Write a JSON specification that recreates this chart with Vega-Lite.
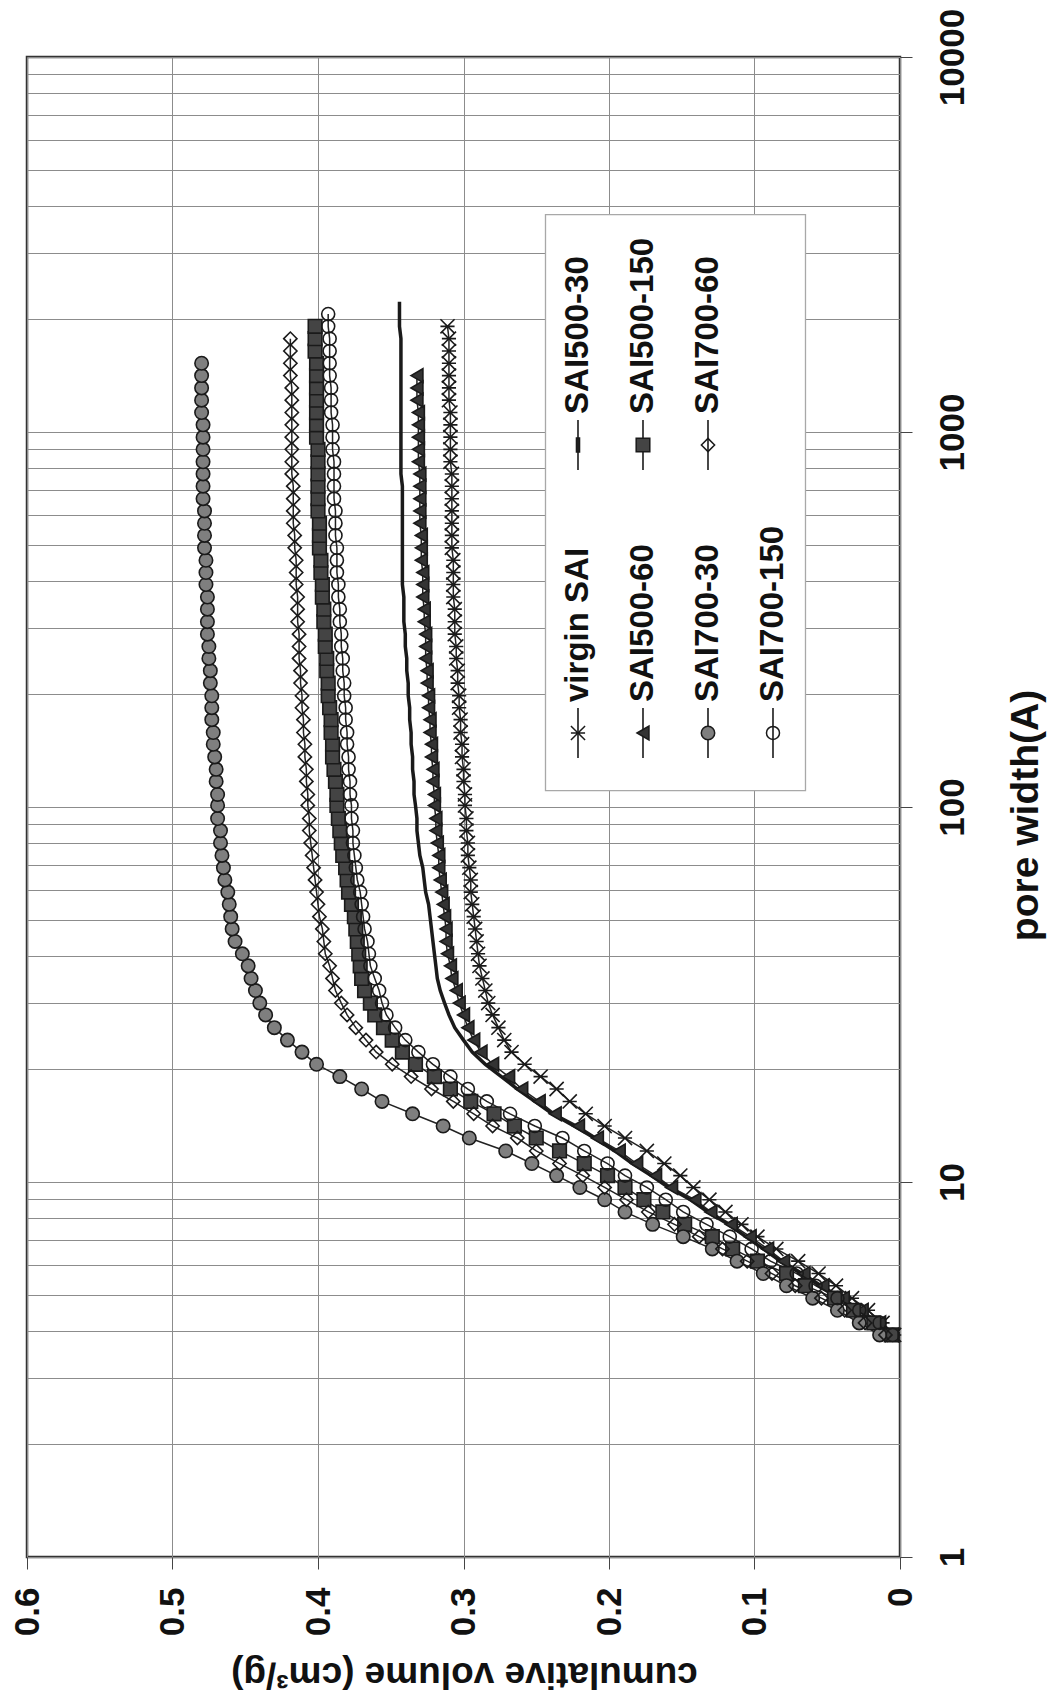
{
"$schema":"https://vega.github.io/schema/vega-lite/v6.json",
"width":873,"height":1500,
"autosize":{"type":"none"},
"padding":{"left":27,"top":57,"right":147,"bottom":147},
"background":"white",
"config":{"font":"Liberation Sans","view":{"stroke":"#333","strokeWidth":2.5}},
"resolve":{"scale":{"x":"independent","y":"independent"}},
"layer":[
{
"data":{"values":[
{"series":"virgin SAI","w":3.91,"v":0.004},{"series":"virgin SAI","w":4.21,"v":0.012},{"series":"virgin SAI","w":4.55,"v":0.022},{"series":"virgin SAI","w":4.9,"v":0.033},{"series":"virgin SAI","w":5.29,"v":0.044},{"series":"virgin SAI","w":5.7,"v":0.056},{"series":"virgin SAI","w":6.15,"v":0.07},{"series":"virgin SAI","w":6.63,"v":0.085},{"series":"virgin SAI","w":7.15,"v":0.098},{"series":"virgin SAI","w":7.71,"v":0.109},{"series":"virgin SAI","w":8.32,"v":0.12},{"series":"virgin SAI","w":8.97,"v":0.131},{"series":"virgin SAI","w":9.67,"v":0.142},{"series":"virgin SAI","w":10.4,"v":0.151},{"series":"virgin SAI","w":11.2,"v":0.162},{"series":"virgin SAI","w":12.1,"v":0.174},{"series":"virgin SAI","w":13.1,"v":0.189},{"series":"virgin SAI","w":14.1,"v":0.203},{"series":"virgin SAI","w":15.2,"v":0.216},{"series":"virgin SAI","w":16.4,"v":0.227},{"series":"virgin SAI","w":17.7,"v":0.236},{"series":"virgin SAI","w":19.1,"v":0.247},{"series":"virgin SAI","w":20.6,"v":0.258},{"series":"virgin SAI","w":22.2,"v":0.267},{"series":"virgin SAI","w":23.9,"v":0.272},{"series":"virgin SAI","w":25.8,"v":0.276},{"series":"virgin SAI","w":27.9,"v":0.28},{"series":"virgin SAI","w":30,"v":0.283},{"series":"virgin SAI","w":32.4,"v":0.285},{"series":"virgin SAI","w":34.9,"v":0.287},{"series":"virgin SAI","w":37.7,"v":0.289},{"series":"virgin SAI","w":40.6,"v":0.29},{"series":"virgin SAI","w":43.8,"v":0.291},{"series":"virgin SAI","w":47.3,"v":0.292},{"series":"virgin SAI","w":51,"v":0.293},{"series":"virgin SAI","w":55,"v":0.294},{"series":"virgin SAI","w":59.3,"v":0.295},{"series":"virgin SAI","w":63.9,"v":0.295},{"series":"virgin SAI","w":68.9,"v":0.296},{"series":"virgin SAI","w":74.3,"v":0.297},{"series":"virgin SAI","w":80.2,"v":0.297},{"series":"virgin SAI","w":86.5,"v":0.298},{"series":"virgin SAI","w":93.2,"v":0.298},{"series":"virgin SAI","w":101,"v":0.299},{"series":"virgin SAI","w":108,"v":0.299},{"series":"virgin SAI","w":117,"v":0.3},{"series":"virgin SAI","w":126,"v":0.3},{"series":"virgin SAI","w":136,"v":0.301},{"series":"virgin SAI","w":147,"v":0.301},{"series":"virgin SAI","w":158,"v":0.302},{"series":"virgin SAI","w":171,"v":0.302},{"series":"virgin SAI","w":184,"v":0.303},{"series":"virgin SAI","w":198,"v":0.303},{"series":"virgin SAI","w":214,"v":0.304},{"series":"virgin SAI","w":231,"v":0.304},{"series":"virgin SAI","w":249,"v":0.305},{"series":"virgin SAI","w":268,"v":0.305},{"series":"virgin SAI","w":289,"v":0.306},{"series":"virgin SAI","w":312,"v":0.306},{"series":"virgin SAI","w":337,"v":0.306},{"series":"virgin SAI","w":363,"v":0.307},{"series":"virgin SAI","w":392,"v":0.307},{"series":"virgin SAI","w":422,"v":0.307},{"series":"virgin SAI","w":455,"v":0.307},{"series":"virgin SAI","w":491,"v":0.308},{"series":"virgin SAI","w":530,"v":0.308},{"series":"virgin SAI","w":571,"v":0.308},{"series":"virgin SAI","w":616,"v":0.308},{"series":"virgin SAI","w":664,"v":0.308},{"series":"virgin SAI","w":717,"v":0.308},{"series":"virgin SAI","w":773,"v":0.308},{"series":"virgin SAI","w":833,"v":0.309},{"series":"virgin SAI","w":899,"v":0.309},{"series":"virgin SAI","w":969,"v":0.309},{"series":"virgin SAI","w":1045,"v":0.309},{"series":"virgin SAI","w":1127,"v":0.309},{"series":"virgin SAI","w":1216,"v":0.31},{"series":"virgin SAI","w":1311,"v":0.31},{"series":"virgin SAI","w":1414,"v":0.31},{"series":"virgin SAI","w":1525,"v":0.31},{"series":"virgin SAI","w":1644,"v":0.31},{"series":"virgin SAI","w":1774,"v":0.31},{"series":"virgin SAI","w":1913,"v":0.311},
{"series":"SAI500-30","w":3.91,"v":0.006},{"series":"SAI500-30","w":4.21,"v":0.015},{"series":"SAI500-30","w":4.55,"v":0.028},{"series":"SAI500-30","w":4.9,"v":0.041},{"series":"SAI500-30","w":5.29,"v":0.055},{"series":"SAI500-30","w":5.7,"v":0.068},{"series":"SAI500-30","w":6.15,"v":0.082},{"series":"SAI500-30","w":6.63,"v":0.094},{"series":"SAI500-30","w":7.15,"v":0.106},{"series":"SAI500-30","w":7.71,"v":0.118},{"series":"SAI500-30","w":8.32,"v":0.132},{"series":"SAI500-30","w":8.97,"v":0.144},{"series":"SAI500-30","w":9.67,"v":0.159},{"series":"SAI500-30","w":10.4,"v":0.171},{"series":"SAI500-30","w":11.2,"v":0.184},{"series":"SAI500-30","w":12.1,"v":0.196},{"series":"SAI500-30","w":13.1,"v":0.21},{"series":"SAI500-30","w":14.1,"v":0.224},{"series":"SAI500-30","w":15.2,"v":0.239},{"series":"SAI500-30","w":16.4,"v":0.251},{"series":"SAI500-30","w":17.7,"v":0.263},{"series":"SAI500-30","w":19.1,"v":0.274},{"series":"SAI500-30","w":20.6,"v":0.285},{"series":"SAI500-30","w":22.2,"v":0.294},{"series":"SAI500-30","w":23.9,"v":0.3},{"series":"SAI500-30","w":25.8,"v":0.306},{"series":"SAI500-30","w":27.9,"v":0.31},{"series":"SAI500-30","w":30,"v":0.313},{"series":"SAI500-30","w":32.4,"v":0.316},{"series":"SAI500-30","w":34.9,"v":0.318},{"series":"SAI500-30","w":37.7,"v":0.319},{"series":"SAI500-30","w":40.6,"v":0.32},{"series":"SAI500-30","w":43.8,"v":0.321},{"series":"SAI500-30","w":47.3,"v":0.322},{"series":"SAI500-30","w":51,"v":0.323},{"series":"SAI500-30","w":55,"v":0.324},{"series":"SAI500-30","w":59.3,"v":0.326},{"series":"SAI500-30","w":63.9,"v":0.327},{"series":"SAI500-30","w":68.9,"v":0.328},{"series":"SAI500-30","w":74.3,"v":0.33},{"series":"SAI500-30","w":80.2,"v":0.331},{"series":"SAI500-30","w":86.5,"v":0.332},{"series":"SAI500-30","w":93.2,"v":0.332},{"series":"SAI500-30","w":101,"v":0.333},{"series":"SAI500-30","w":108,"v":0.334},{"series":"SAI500-30","w":117,"v":0.334},{"series":"SAI500-30","w":126,"v":0.335},{"series":"SAI500-30","w":136,"v":0.335},{"series":"SAI500-30","w":147,"v":0.336},{"series":"SAI500-30","w":158,"v":0.336},{"series":"SAI500-30","w":171,"v":0.337},{"series":"SAI500-30","w":184,"v":0.337},{"series":"SAI500-30","w":198,"v":0.338},{"series":"SAI500-30","w":214,"v":0.338},{"series":"SAI500-30","w":231,"v":0.339},{"series":"SAI500-30","w":249,"v":0.339},{"series":"SAI500-30","w":268,"v":0.34},{"series":"SAI500-30","w":289,"v":0.34},{"series":"SAI500-30","w":312,"v":0.341},{"series":"SAI500-30","w":337,"v":0.341},{"series":"SAI500-30","w":363,"v":0.341},{"series":"SAI500-30","w":392,"v":0.342},{"series":"SAI500-30","w":422,"v":0.342},{"series":"SAI500-30","w":455,"v":0.342},{"series":"SAI500-30","w":491,"v":0.342},{"series":"SAI500-30","w":530,"v":0.342},{"series":"SAI500-30","w":571,"v":0.342},{"series":"SAI500-30","w":616,"v":0.342},{"series":"SAI500-30","w":664,"v":0.342},{"series":"SAI500-30","w":717,"v":0.342},{"series":"SAI500-30","w":773,"v":0.343},{"series":"SAI500-30","w":833,"v":0.343},{"series":"SAI500-30","w":899,"v":0.343},{"series":"SAI500-30","w":969,"v":0.343},{"series":"SAI500-30","w":1045,"v":0.343},{"series":"SAI500-30","w":1127,"v":0.343},{"series":"SAI500-30","w":1216,"v":0.343},{"series":"SAI500-30","w":1311,"v":0.343},{"series":"SAI500-30","w":1414,"v":0.343},{"series":"SAI500-30","w":1525,"v":0.343},{"series":"SAI500-30","w":1644,"v":0.343},{"series":"SAI500-30","w":1774,"v":0.343},{"series":"SAI500-30","w":1913,"v":0.344},{"series":"SAI500-30","w":2063,"v":0.344},{"series":"SAI500-30","w":2225,"v":0.344},
{"series":"SAI500-60","w":3.91,"v":0.005},{"series":"SAI500-60","w":4.21,"v":0.014},{"series":"SAI500-60","w":4.55,"v":0.026},{"series":"SAI500-60","w":4.9,"v":0.039},{"series":"SAI500-60","w":5.29,"v":0.053},{"series":"SAI500-60","w":5.7,"v":0.066},{"series":"SAI500-60","w":6.15,"v":0.08},{"series":"SAI500-60","w":6.63,"v":0.091},{"series":"SAI500-60","w":7.15,"v":0.103},{"series":"SAI500-60","w":7.71,"v":0.116},{"series":"SAI500-60","w":8.32,"v":0.13},{"series":"SAI500-60","w":8.97,"v":0.141},{"series":"SAI500-60","w":9.67,"v":0.157},{"series":"SAI500-60","w":10.4,"v":0.168},{"series":"SAI500-60","w":11.2,"v":0.181},{"series":"SAI500-60","w":12.1,"v":0.193},{"series":"SAI500-60","w":13.1,"v":0.208},{"series":"SAI500-60","w":14.1,"v":0.221},{"series":"SAI500-60","w":15.2,"v":0.237},{"series":"SAI500-60","w":16.4,"v":0.248},{"series":"SAI500-60","w":17.7,"v":0.26},{"series":"SAI500-60","w":19.1,"v":0.269},{"series":"SAI500-60","w":20.6,"v":0.28},{"series":"SAI500-60","w":22.2,"v":0.288},{"series":"SAI500-60","w":23.9,"v":0.293},{"series":"SAI500-60","w":25.8,"v":0.297},{"series":"SAI500-60","w":27.9,"v":0.3},{"series":"SAI500-60","w":30,"v":0.303},{"series":"SAI500-60","w":32.4,"v":0.305},{"series":"SAI500-60","w":34.9,"v":0.308},{"series":"SAI500-60","w":37.7,"v":0.309},{"series":"SAI500-60","w":40.6,"v":0.311},{"series":"SAI500-60","w":43.8,"v":0.312},{"series":"SAI500-60","w":47.3,"v":0.312},{"series":"SAI500-60","w":51,"v":0.313},{"series":"SAI500-60","w":55,"v":0.314},{"series":"SAI500-60","w":59.3,"v":0.315},{"series":"SAI500-60","w":63.9,"v":0.316},{"series":"SAI500-60","w":68.9,"v":0.317},{"series":"SAI500-60","w":74.3,"v":0.317},{"series":"SAI500-60","w":80.2,"v":0.318},{"series":"SAI500-60","w":86.5,"v":0.319},{"series":"SAI500-60","w":93.2,"v":0.319},{"series":"SAI500-60","w":101,"v":0.32},{"series":"SAI500-60","w":108,"v":0.32},{"series":"SAI500-60","w":117,"v":0.321},{"series":"SAI500-60","w":126,"v":0.321},{"series":"SAI500-60","w":136,"v":0.322},{"series":"SAI500-60","w":147,"v":0.322},{"series":"SAI500-60","w":158,"v":0.323},{"series":"SAI500-60","w":171,"v":0.323},{"series":"SAI500-60","w":184,"v":0.324},{"series":"SAI500-60","w":198,"v":0.324},{"series":"SAI500-60","w":214,"v":0.325},{"series":"SAI500-60","w":231,"v":0.325},{"series":"SAI500-60","w":249,"v":0.326},{"series":"SAI500-60","w":268,"v":0.326},{"series":"SAI500-60","w":289,"v":0.326},{"series":"SAI500-60","w":312,"v":0.327},{"series":"SAI500-60","w":337,"v":0.327},{"series":"SAI500-60","w":363,"v":0.328},{"series":"SAI500-60","w":392,"v":0.328},{"series":"SAI500-60","w":422,"v":0.328},{"series":"SAI500-60","w":455,"v":0.329},{"series":"SAI500-60","w":491,"v":0.329},{"series":"SAI500-60","w":530,"v":0.329},{"series":"SAI500-60","w":571,"v":0.33},{"series":"SAI500-60","w":616,"v":0.33},{"series":"SAI500-60","w":664,"v":0.33},{"series":"SAI500-60","w":717,"v":0.33},{"series":"SAI500-60","w":773,"v":0.33},{"series":"SAI500-60","w":833,"v":0.331},{"series":"SAI500-60","w":899,"v":0.331},{"series":"SAI500-60","w":969,"v":0.331},{"series":"SAI500-60","w":1045,"v":0.331},{"series":"SAI500-60","w":1127,"v":0.331},{"series":"SAI500-60","w":1216,"v":0.332},{"series":"SAI500-60","w":1311,"v":0.332},{"series":"SAI500-60","w":1414,"v":0.332},
{"series":"SAI500-150","w":3.91,"v":0.006},{"series":"SAI500-150","w":4.21,"v":0.018},{"series":"SAI500-150","w":4.55,"v":0.032},{"series":"SAI500-150","w":4.9,"v":0.045},{"series":"SAI500-150","w":5.29,"v":0.065},{"series":"SAI500-150","w":5.7,"v":0.078},{"series":"SAI500-150","w":6.15,"v":0.098},{"series":"SAI500-150","w":6.63,"v":0.115},{"series":"SAI500-150","w":7.15,"v":0.129},{"series":"SAI500-150","w":7.71,"v":0.148},{"series":"SAI500-150","w":8.32,"v":0.163},{"series":"SAI500-150","w":8.97,"v":0.176},{"series":"SAI500-150","w":9.67,"v":0.189},{"series":"SAI500-150","w":10.4,"v":0.201},{"series":"SAI500-150","w":11.2,"v":0.217},{"series":"SAI500-150","w":12.1,"v":0.234},{"series":"SAI500-150","w":13.1,"v":0.25},{"series":"SAI500-150","w":14.1,"v":0.265},{"series":"SAI500-150","w":15.2,"v":0.279},{"series":"SAI500-150","w":16.4,"v":0.295},{"series":"SAI500-150","w":17.7,"v":0.309},{"series":"SAI500-150","w":19.1,"v":0.32},{"series":"SAI500-150","w":20.6,"v":0.333},{"series":"SAI500-150","w":22.2,"v":0.342},{"series":"SAI500-150","w":23.9,"v":0.349},{"series":"SAI500-150","w":25.8,"v":0.355},{"series":"SAI500-150","w":27.9,"v":0.361},{"series":"SAI500-150","w":30,"v":0.364},{"series":"SAI500-150","w":32.4,"v":0.368},{"series":"SAI500-150","w":34.9,"v":0.37},{"series":"SAI500-150","w":37.7,"v":0.371},{"series":"SAI500-150","w":40.6,"v":0.372},{"series":"SAI500-150","w":43.8,"v":0.373},{"series":"SAI500-150","w":47.3,"v":0.374},{"series":"SAI500-150","w":51,"v":0.375},{"series":"SAI500-150","w":55,"v":0.377},{"series":"SAI500-150","w":59.3,"v":0.379},{"series":"SAI500-150","w":63.9,"v":0.38},{"series":"SAI500-150","w":68.9,"v":0.381},{"series":"SAI500-150","w":74.3,"v":0.383},{"series":"SAI500-150","w":80.2,"v":0.384},{"series":"SAI500-150","w":86.5,"v":0.385},{"series":"SAI500-150","w":93.2,"v":0.386},{"series":"SAI500-150","w":101,"v":0.387},{"series":"SAI500-150","w":108,"v":0.387},{"series":"SAI500-150","w":117,"v":0.388},{"series":"SAI500-150","w":126,"v":0.389},{"series":"SAI500-150","w":136,"v":0.39},{"series":"SAI500-150","w":147,"v":0.39},{"series":"SAI500-150","w":158,"v":0.391},{"series":"SAI500-150","w":171,"v":0.391},{"series":"SAI500-150","w":184,"v":0.392},{"series":"SAI500-150","w":198,"v":0.393},{"series":"SAI500-150","w":214,"v":0.393},{"series":"SAI500-150","w":231,"v":0.394},{"series":"SAI500-150","w":249,"v":0.394},{"series":"SAI500-150","w":268,"v":0.395},{"series":"SAI500-150","w":289,"v":0.395},{"series":"SAI500-150","w":312,"v":0.396},{"series":"SAI500-150","w":337,"v":0.396},{"series":"SAI500-150","w":363,"v":0.397},{"series":"SAI500-150","w":392,"v":0.397},{"series":"SAI500-150","w":422,"v":0.398},{"series":"SAI500-150","w":455,"v":0.398},{"series":"SAI500-150","w":491,"v":0.399},{"series":"SAI500-150","w":530,"v":0.399},{"series":"SAI500-150","w":571,"v":0.399},{"series":"SAI500-150","w":616,"v":0.4},{"series":"SAI500-150","w":664,"v":0.4},{"series":"SAI500-150","w":717,"v":0.4},{"series":"SAI500-150","w":773,"v":0.4},{"series":"SAI500-150","w":833,"v":0.4},{"series":"SAI500-150","w":899,"v":0.4},{"series":"SAI500-150","w":969,"v":0.401},{"series":"SAI500-150","w":1045,"v":0.401},{"series":"SAI500-150","w":1127,"v":0.401},{"series":"SAI500-150","w":1216,"v":0.401},{"series":"SAI500-150","w":1311,"v":0.401},{"series":"SAI500-150","w":1414,"v":0.401},{"series":"SAI500-150","w":1525,"v":0.401},{"series":"SAI500-150","w":1644,"v":0.402},{"series":"SAI500-150","w":1774,"v":0.402},{"series":"SAI500-150","w":1913,"v":0.402},
{"series":"SAI700-30","w":3.91,"v":0.014},{"series":"SAI700-30","w":4.21,"v":0.028},{"series":"SAI700-30","w":4.55,"v":0.043},{"series":"SAI700-30","w":4.9,"v":0.06},{"series":"SAI700-30","w":5.29,"v":0.078},{"series":"SAI700-30","w":5.7,"v":0.094},{"series":"SAI700-30","w":6.15,"v":0.112},{"series":"SAI700-30","w":6.63,"v":0.129},{"series":"SAI700-30","w":7.15,"v":0.149},{"series":"SAI700-30","w":7.71,"v":0.17},{"series":"SAI700-30","w":8.32,"v":0.189},{"series":"SAI700-30","w":8.97,"v":0.203},{"series":"SAI700-30","w":9.67,"v":0.22},{"series":"SAI700-30","w":10.4,"v":0.236},{"series":"SAI700-30","w":11.2,"v":0.253},{"series":"SAI700-30","w":12.1,"v":0.271},{"series":"SAI700-30","w":13.1,"v":0.296},{"series":"SAI700-30","w":14.1,"v":0.314},{"series":"SAI700-30","w":15.2,"v":0.335},{"series":"SAI700-30","w":16.4,"v":0.356},{"series":"SAI700-30","w":17.7,"v":0.37},{"series":"SAI700-30","w":19.1,"v":0.385},{"series":"SAI700-30","w":20.6,"v":0.401},{"series":"SAI700-30","w":22.2,"v":0.411},{"series":"SAI700-30","w":23.9,"v":0.421},{"series":"SAI700-30","w":25.8,"v":0.43},{"series":"SAI700-30","w":27.9,"v":0.436},{"series":"SAI700-30","w":30,"v":0.44},{"series":"SAI700-30","w":32.4,"v":0.443},{"series":"SAI700-30","w":34.9,"v":0.446},{"series":"SAI700-30","w":37.7,"v":0.448},{"series":"SAI700-30","w":40.6,"v":0.452},{"series":"SAI700-30","w":43.8,"v":0.457},{"series":"SAI700-30","w":47.3,"v":0.459},{"series":"SAI700-30","w":51,"v":0.46},{"series":"SAI700-30","w":55,"v":0.461},{"series":"SAI700-30","w":59.3,"v":0.462},{"series":"SAI700-30","w":63.9,"v":0.464},{"series":"SAI700-30","w":68.9,"v":0.465},{"series":"SAI700-30","w":74.3,"v":0.466},{"series":"SAI700-30","w":80.2,"v":0.467},{"series":"SAI700-30","w":86.5,"v":0.467},{"series":"SAI700-30","w":93.2,"v":0.469},{"series":"SAI700-30","w":101,"v":0.469},{"series":"SAI700-30","w":108,"v":0.469},{"series":"SAI700-30","w":117,"v":0.47},{"series":"SAI700-30","w":126,"v":0.47},{"series":"SAI700-30","w":136,"v":0.471},{"series":"SAI700-30","w":147,"v":0.472},{"series":"SAI700-30","w":158,"v":0.472},{"series":"SAI700-30","w":171,"v":0.473},{"series":"SAI700-30","w":184,"v":0.473},{"series":"SAI700-30","w":198,"v":0.473},{"series":"SAI700-30","w":214,"v":0.474},{"series":"SAI700-30","w":231,"v":0.474},{"series":"SAI700-30","w":249,"v":0.475},{"series":"SAI700-30","w":268,"v":0.475},{"series":"SAI700-30","w":289,"v":0.476},{"series":"SAI700-30","w":312,"v":0.476},{"series":"SAI700-30","w":337,"v":0.476},{"series":"SAI700-30","w":363,"v":0.476},{"series":"SAI700-30","w":392,"v":0.477},{"series":"SAI700-30","w":422,"v":0.477},{"series":"SAI700-30","w":455,"v":0.477},{"series":"SAI700-30","w":491,"v":0.478},{"series":"SAI700-30","w":530,"v":0.478},{"series":"SAI700-30","w":571,"v":0.478},{"series":"SAI700-30","w":616,"v":0.478},{"series":"SAI700-30","w":664,"v":0.479},{"series":"SAI700-30","w":717,"v":0.479},{"series":"SAI700-30","w":773,"v":0.479},{"series":"SAI700-30","w":833,"v":0.479},{"series":"SAI700-30","w":899,"v":0.479},{"series":"SAI700-30","w":969,"v":0.479},{"series":"SAI700-30","w":1045,"v":0.479},{"series":"SAI700-30","w":1127,"v":0.48},{"series":"SAI700-30","w":1216,"v":0.48},{"series":"SAI700-30","w":1311,"v":0.48},{"series":"SAI700-30","w":1414,"v":0.48},{"series":"SAI700-30","w":1525,"v":0.48},
{"series":"SAI700-60","w":3.91,"v":0.01},{"series":"SAI700-60","w":4.21,"v":0.024},{"series":"SAI700-60","w":4.55,"v":0.038},{"series":"SAI700-60","w":4.9,"v":0.054},{"series":"SAI700-60","w":5.29,"v":0.072},{"series":"SAI700-60","w":5.7,"v":0.088},{"series":"SAI700-60","w":6.15,"v":0.105},{"series":"SAI700-60","w":6.63,"v":0.122},{"series":"SAI700-60","w":7.15,"v":0.138},{"series":"SAI700-60","w":7.71,"v":0.155},{"series":"SAI700-60","w":8.32,"v":0.173},{"series":"SAI700-60","w":8.97,"v":0.188},{"series":"SAI700-60","w":9.67,"v":0.203},{"series":"SAI700-60","w":10.4,"v":0.218},{"series":"SAI700-60","w":11.2,"v":0.234},{"series":"SAI700-60","w":12.1,"v":0.25},{"series":"SAI700-60","w":13.1,"v":0.263},{"series":"SAI700-60","w":14.1,"v":0.28},{"series":"SAI700-60","w":15.2,"v":0.293},{"series":"SAI700-60","w":16.4,"v":0.307},{"series":"SAI700-60","w":17.7,"v":0.322},{"series":"SAI700-60","w":19.1,"v":0.336},{"series":"SAI700-60","w":20.6,"v":0.349},{"series":"SAI700-60","w":22.2,"v":0.36},{"series":"SAI700-60","w":23.9,"v":0.367},{"series":"SAI700-60","w":25.8,"v":0.374},{"series":"SAI700-60","w":27.9,"v":0.38},{"series":"SAI700-60","w":30,"v":0.384},{"series":"SAI700-60","w":32.4,"v":0.388},{"series":"SAI700-60","w":34.9,"v":0.39},{"series":"SAI700-60","w":37.7,"v":0.392},{"series":"SAI700-60","w":40.6,"v":0.395},{"series":"SAI700-60","w":43.8,"v":0.396},{"series":"SAI700-60","w":47.3,"v":0.397},{"series":"SAI700-60","w":51,"v":0.399},{"series":"SAI700-60","w":55,"v":0.4},{"series":"SAI700-60","w":59.3,"v":0.401},{"series":"SAI700-60","w":63.9,"v":0.402},{"series":"SAI700-60","w":68.9,"v":0.403},{"series":"SAI700-60","w":74.3,"v":0.404},{"series":"SAI700-60","w":80.2,"v":0.405},{"series":"SAI700-60","w":86.5,"v":0.406},{"series":"SAI700-60","w":93.2,"v":0.406},{"series":"SAI700-60","w":101,"v":0.407},{"series":"SAI700-60","w":108,"v":0.407},{"series":"SAI700-60","w":117,"v":0.408},{"series":"SAI700-60","w":126,"v":0.408},{"series":"SAI700-60","w":136,"v":0.409},{"series":"SAI700-60","w":147,"v":0.409},{"series":"SAI700-60","w":158,"v":0.41},{"series":"SAI700-60","w":171,"v":0.41},{"series":"SAI700-60","w":184,"v":0.411},{"series":"SAI700-60","w":198,"v":0.411},{"series":"SAI700-60","w":214,"v":0.412},{"series":"SAI700-60","w":231,"v":0.412},{"series":"SAI700-60","w":249,"v":0.413},{"series":"SAI700-60","w":268,"v":0.413},{"series":"SAI700-60","w":289,"v":0.413},{"series":"SAI700-60","w":312,"v":0.414},{"series":"SAI700-60","w":337,"v":0.414},{"series":"SAI700-60","w":363,"v":0.414},{"series":"SAI700-60","w":392,"v":0.415},{"series":"SAI700-60","w":422,"v":0.415},{"series":"SAI700-60","w":455,"v":0.415},{"series":"SAI700-60","w":491,"v":0.416},{"series":"SAI700-60","w":530,"v":0.416},{"series":"SAI700-60","w":571,"v":0.417},{"series":"SAI700-60","w":616,"v":0.417},{"series":"SAI700-60","w":664,"v":0.417},{"series":"SAI700-60","w":717,"v":0.417},{"series":"SAI700-60","w":773,"v":0.418},{"series":"SAI700-60","w":833,"v":0.418},{"series":"SAI700-60","w":899,"v":0.418},{"series":"SAI700-60","w":969,"v":0.418},{"series":"SAI700-60","w":1045,"v":0.418},{"series":"SAI700-60","w":1127,"v":0.418},{"series":"SAI700-60","w":1216,"v":0.418},{"series":"SAI700-60","w":1311,"v":0.418},{"series":"SAI700-60","w":1414,"v":0.419},{"series":"SAI700-60","w":1525,"v":0.419},{"series":"SAI700-60","w":1644,"v":0.419},{"series":"SAI700-60","w":1774,"v":0.419},
{"series":"SAI700-150","w":3.91,"v":0.005},{"series":"SAI700-150","w":4.21,"v":0.014},{"series":"SAI700-150","w":4.55,"v":0.028},{"series":"SAI700-150","w":4.9,"v":0.043},{"series":"SAI700-150","w":5.29,"v":0.058},{"series":"SAI700-150","w":5.7,"v":0.071},{"series":"SAI700-150","w":6.15,"v":0.089},{"series":"SAI700-150","w":6.63,"v":0.102},{"series":"SAI700-150","w":7.15,"v":0.117},{"series":"SAI700-150","w":7.71,"v":0.133},{"series":"SAI700-150","w":8.32,"v":0.149},{"series":"SAI700-150","w":8.97,"v":0.161},{"series":"SAI700-150","w":9.67,"v":0.174},{"series":"SAI700-150","w":10.4,"v":0.189},{"series":"SAI700-150","w":11.2,"v":0.201},{"series":"SAI700-150","w":12.1,"v":0.217},{"series":"SAI700-150","w":13.1,"v":0.232},{"series":"SAI700-150","w":14.1,"v":0.251},{"series":"SAI700-150","w":15.2,"v":0.268},{"series":"SAI700-150","w":16.4,"v":0.284},{"series":"SAI700-150","w":17.7,"v":0.297},{"series":"SAI700-150","w":19.1,"v":0.309},{"series":"SAI700-150","w":20.6,"v":0.321},{"series":"SAI700-150","w":22.2,"v":0.331},{"series":"SAI700-150","w":23.9,"v":0.34},{"series":"SAI700-150","w":25.8,"v":0.347},{"series":"SAI700-150","w":27.9,"v":0.353},{"series":"SAI700-150","w":30,"v":0.356},{"series":"SAI700-150","w":32.4,"v":0.358},{"series":"SAI700-150","w":34.9,"v":0.361},{"series":"SAI700-150","w":37.7,"v":0.364},{"series":"SAI700-150","w":40.6,"v":0.365},{"series":"SAI700-150","w":43.8,"v":0.366},{"series":"SAI700-150","w":47.3,"v":0.368},{"series":"SAI700-150","w":51,"v":0.369},{"series":"SAI700-150","w":55,"v":0.37},{"series":"SAI700-150","w":59.3,"v":0.371},{"series":"SAI700-150","w":63.9,"v":0.373},{"series":"SAI700-150","w":68.9,"v":0.374},{"series":"SAI700-150","w":74.3,"v":0.375},{"series":"SAI700-150","w":80.2,"v":0.376},{"series":"SAI700-150","w":86.5,"v":0.376},{"series":"SAI700-150","w":93.2,"v":0.377},{"series":"SAI700-150","w":101,"v":0.377},{"series":"SAI700-150","w":108,"v":0.378},{"series":"SAI700-150","w":117,"v":0.378},{"series":"SAI700-150","w":126,"v":0.379},{"series":"SAI700-150","w":136,"v":0.379},{"series":"SAI700-150","w":147,"v":0.38},{"series":"SAI700-150","w":158,"v":0.38},{"series":"SAI700-150","w":171,"v":0.381},{"series":"SAI700-150","w":184,"v":0.381},{"series":"SAI700-150","w":198,"v":0.382},{"series":"SAI700-150","w":214,"v":0.382},{"series":"SAI700-150","w":231,"v":0.383},{"series":"SAI700-150","w":249,"v":0.383},{"series":"SAI700-150","w":268,"v":0.384},{"series":"SAI700-150","w":289,"v":0.384},{"series":"SAI700-150","w":312,"v":0.385},{"series":"SAI700-150","w":337,"v":0.385},{"series":"SAI700-150","w":363,"v":0.386},{"series":"SAI700-150","w":392,"v":0.386},{"series":"SAI700-150","w":422,"v":0.387},{"series":"SAI700-150","w":455,"v":0.387},{"series":"SAI700-150","w":491,"v":0.387},{"series":"SAI700-150","w":530,"v":0.388},{"series":"SAI700-150","w":571,"v":0.388},{"series":"SAI700-150","w":616,"v":0.388},{"series":"SAI700-150","w":664,"v":0.389},{"series":"SAI700-150","w":717,"v":0.389},{"series":"SAI700-150","w":773,"v":0.389},{"series":"SAI700-150","w":833,"v":0.389},{"series":"SAI700-150","w":899,"v":0.39},{"series":"SAI700-150","w":969,"v":0.39},{"series":"SAI700-150","w":1045,"v":0.39},{"series":"SAI700-150","w":1127,"v":0.391},{"series":"SAI700-150","w":1216,"v":0.391},{"series":"SAI700-150","w":1311,"v":0.391},{"series":"SAI700-150","w":1414,"v":0.392},{"series":"SAI700-150","w":1525,"v":0.392},{"series":"SAI700-150","w":1644,"v":0.392},{"series":"SAI700-150","w":1774,"v":0.392},{"series":"SAI700-150","w":1913,"v":0.393},{"series":"SAI700-150","w":2063,"v":0.393}
]},
"encoding":{
"x":{"field":"v","type":"quantitative","scale":{"domain":[0,0.6],"reverse":true,"nice":false,"zero":false},
"axis":{"orient":"bottom","values":[0,0.1,0.2,0.3,0.4,0.5,0.6],"format":".1~f","title":"cumulative volume (cm³/g)",
"grid":true,"gridColor":"#8c8c8c","gridWidth":1,"domain":false,"tickSize":12,"tickColor":"#444","tickWidth":1,
"labelAngle":-90,"labelAlign":"right","labelBaseline":"middle","labelPadding":18,"labelFontSize":35,"labelFontWeight":"bold","labelColor":"#111","labelFlush":false,"labelOverlap":false,"labelBound":false,
"titleAngle":180,"titleFontSize":37,"titleFontWeight":"bold","titleColor":"#111","titleX":437,"titleY":116,"titleAlign":"center","titleBaseline":"middle"}},
"y":{"field":"w","type":"quantitative","scale":{"type":"log","domain":[1,10000],"nice":false},
"axis":{"orient":"right","values":[1,2,3,4,5,6,7,8,9,10,20,30,40,50,60,70,80,90,100,200,300,400,500,600,700,800,900,1000,2000,3000,4000,5000,6000,7000,8000,9000,10000],
"labelExpr":"indexof([1,10,100,1000,10000], datum.value) >= 0 ? format(datum.value, 'd') : ''",
"title":"pore width(A)","grid":true,"gridColor":"#8c8c8c","gridWidth":1,"domain":false,"tickSize":12,"tickColor":"#444","tickWidth":1,
"tickOpacity":{"condition":{"test":"indexof([1,10,100,1000,10000], datum.value) >= 0","value":1},"value":0},
"labelAngle":-90,"labelAlign":"center","labelBaseline":"top","labelPadding":23,"labelFontSize":35,"labelFontWeight":"bold","labelColor":"#111","labelFlush":false,"labelOverlap":false,"labelBound":false,
"titleAngle":-90,"titleFontSize":39,"titleFontWeight":"bold","titleColor":"#111","titleX":125,"titleY":758,"titleAlign":"center","titleBaseline":"middle"}}
},
"layer":[
{"transform":[{"filter":"datum.series != 'SAI500-30'"}],"mark":{"type":"line","color":"#222","strokeWidth":1.5},"encoding":{"detail":{"field":"series","type":"nominal"},"order":{"field":"w","type":"quantitative"}}},
{"transform":[{"filter":"datum.series == 'SAI500-30'"}],"mark":{"type":"line","color":"#1a1a1a","strokeWidth":3.5},"encoding":{"order":{"field":"w","type":"quantitative"}}},
{"transform":[{"filter":"datum.series != 'SAI500-30'"}],"mark":{"type":"point","filled":true,"stroke":"#1a1a1a","strokeWidth":1.6,"opacity":1},
"encoding":{
"shape":{"field":"series","type":"nominal","legend":null,"scale":{"domain":["virgin SAI","SAI500-30","SAI500-60","SAI500-150","SAI700-30","SAI700-60","SAI700-150"],"range":["M-1,-1L1,1M-1,1L1,-1M-1,0L1,0","M-0.22,-1L0.22,-1L0.22,1L-0.22,1Z","triangle-left","square","circle","diamond","circle"]}},
"fill":{"field":"series","type":"nominal","legend":null,"scale":{"domain":["virgin SAI","SAI500-30","SAI500-60","SAI500-150","SAI700-30","SAI700-60","SAI700-150"],"range":["transparent","#222","#333","#444","#7f7f7f","transparent","transparent"]}},
"size":{"field":"series","type":"nominal","legend":null,"scale":{"domain":["virgin SAI","SAI500-30","SAI500-60","SAI500-150","SAI700-30","SAI700-60","SAI700-150"],"range":[200,170,190,150,190,150,150]}}
}}
]
},
{
"data":{"values":[
{"series":"virgin SAI","lcol":0,"lrow":0},{"series":"SAI500-30","lcol":0,"lrow":1},
{"series":"SAI500-60","lcol":1,"lrow":0},{"series":"SAI500-150","lcol":1,"lrow":1},
{"series":"SAI700-30","lcol":2,"lrow":0},{"series":"SAI700-60","lcol":2,"lrow":1},
{"series":"SAI700-150","lcol":3,"lrow":0}
]},
"encoding":{
"x":{"field":"lcol","type":"quantitative","scale":{"domain":[-8.477,4.954],"nice":false,"zero":false},"axis":null},
"y":{"field":"lrow","type":"quantitative","scale":{"domain":[-2.861,2.347],"nice":false,"zero":false},"axis":null}
},
"layer":[
{"transform":[{"filter":"datum.lcol == 0 && datum.lrow == 0"}],"mark":{"type":"rect","fill":"white","stroke":"#a8a8a8","strokeWidth":1.3},
"encoding":{"x":{"datum":-0.5,"type":"quantitative"},"x2":{"datum":3.5},"y":{"datum":-0.2,"type":"quantitative"},"y2":{"datum":1.8}}},
{"mark":{"type":"point","shape":"M0,-1L0,1","size":2500,"filled":false,"stroke":"#1a1a1a","strokeWidth":1.6,"opacity":1}},
{"mark":{"type":"point","filled":true,"stroke":"#1a1a1a","strokeWidth":1.5,"opacity":1},
"encoding":{
"shape":{"field":"series","type":"nominal","legend":null,"scale":{"domain":["virgin SAI","SAI500-30","SAI500-60","SAI500-150","SAI700-30","SAI700-60","SAI700-150"],"range":["M-1,-1L1,1M-1,1L1,-1M-1,0L1,0","M-0.22,-1L0.22,-1L0.22,1L-0.22,1Z","triangle-left","square","circle","diamond","circle"]}},
"fill":{"field":"series","type":"nominal","legend":null,"scale":{"domain":["virgin SAI","SAI500-30","SAI500-60","SAI500-150","SAI700-30","SAI700-60","SAI700-150"],"range":["transparent","#222","#333","#444","#7f7f7f","transparent","transparent"]}},
"size":{"field":"series","type":"nominal","legend":null,"scale":{"domain":["virgin SAI","SAI500-30","SAI500-60","SAI500-150","SAI700-30","SAI700-60","SAI700-150"],"range":[200,170,190,150,190,150,150]}}
}},
{"mark":{"type":"text","angle":-90,"align":"left","baseline":"middle","dx":31,"fontSize":33,"fontWeight":"bold","color":"#111"},"encoding":{"text":{"field":"series","type":"nominal"}}}
]
}
]
}
